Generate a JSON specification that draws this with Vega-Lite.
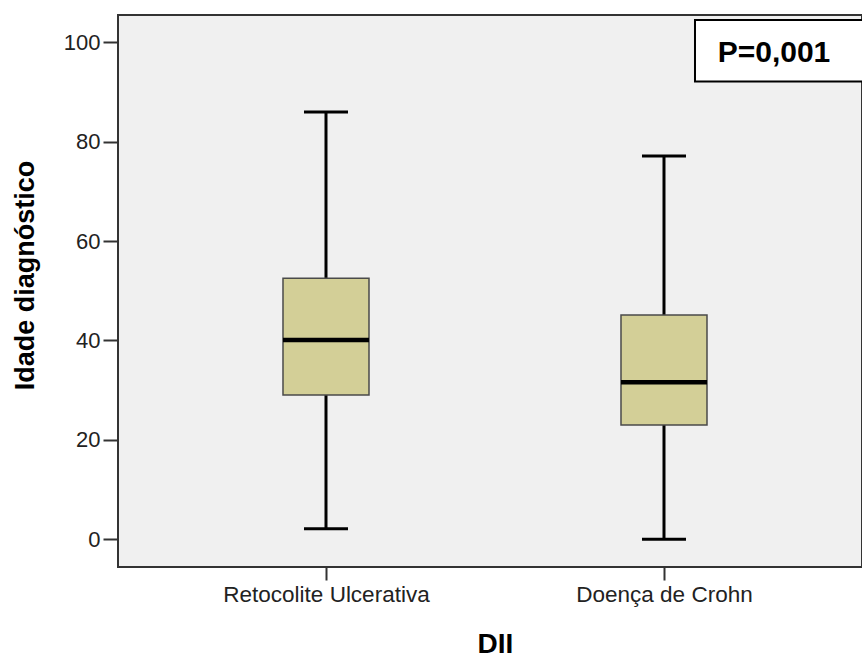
{
  "$schema": "https://vega.github.io/schema/vega-lite/v6.json",
  "autosize": {"type": "none"},
  "padding": {"left": 118, "top": 15, "right": 0, "bottom": 92},
  "width": 744,
  "height": 552,
  "background": "white",
  "config": {
    "view": {"fill": "#f0f0f0", "stroke": "#333333", "strokeWidth": 2},
    "font": "Liberation Sans"
  },
  "datasets": {
    "boxes": [
      {"DII": "Retocolite Ulcerativa", "min": 2.1, "q1": 29.0, "median": 40.1, "q3": 52.5, "max": 86.0},
      {"DII": "Doença de Crohn", "min": 0, "q1": 23.0, "median": 31.6, "q3": 45.1, "max": 77.1}
    ],
    "note": [
      {"DII": "Doença de Crohn", "label": "P=0,001", "low": 92.1, "high": 104.5, "texty": 96.1}
    ]
  },
  "encoding": {
    "x": {
      "field": "DII",
      "type": "nominal",
      "sort": ["Retocolite Ulcerativa", "Doença de Crohn"],
      "scale": {"type": "point", "padding": 0.6006, "align": 0.5123, "domain": ["Retocolite Ulcerativa", "Doença de Crohn"]},
      "axis": {
        "title": "DII",
        "domain": false,
        "grid": false,
        "labelAngle": 0,
        "labelLimit": 400,
        "tickSize": 13,
        "tickWidth": 2,
        "tickColor": "#333333",
        "labelFont": "Liberation Sans",
        "labelFontSize": 22.5,
        "labelColor": "#222222",
        "labelPadding": 3,
        "titleFont": "Liberation Sans",
        "titleFontSize": 28,
        "titleFontWeight": "bold",
        "titleColor": "#000000",
        "titlePadding": 25,
        "titleX": 377
      }
    }
  },
  "layer": [
    {
      "data": {"name": "boxes"},
      "mark": {"type": "rule", "color": "#000000", "strokeWidth": 3, "opacity": 1},
      "encoding": {
        "y": {
          "field": "min",
          "type": "quantitative",
          "scale": {"domain": [-5.6, 105.5], "nice": false, "zero": false},
          "axis": {
            "title": "Idade diagnóstico",
            "values": [0, 20, 40, 60, 80, 100],
            "domain": false,
            "grid": false,
            "tickSize": 15,
            "tickWidth": 2,
            "tickColor": "#333333",
            "labelFont": "Liberation Sans",
            "labelFontSize": 22,
            "labelColor": "#222222",
            "labelPadding": 3,
            "titleFont": "Liberation Sans",
            "titleFontSize": 27,
            "titleFontWeight": "bold",
            "titleColor": "#000000",
            "titlePadding": 24,
            "titleY": 260
          }
        },
        "y2": {"field": "max"}
      }
    },
    {
      "data": {"name": "boxes"},
      "mark": {"type": "bar", "size": 86, "fill": "#d3cf97", "stroke": "#4a4a4a", "strokeWidth": 1.5, "opacity": 1},
      "encoding": {
        "y": {"field": "q1", "type": "quantitative"},
        "y2": {"field": "q3"}
      }
    },
    {
      "data": {"name": "boxes"},
      "mark": {"type": "tick", "size": 86, "thickness": 4.5, "color": "#000000", "opacity": 1, "orient": "horizontal"},
      "encoding": {
        "y": {"field": "median", "type": "quantitative"}
      }
    },
    {
      "data": {"name": "boxes"},
      "mark": {"type": "tick", "size": 44, "thickness": 3, "color": "#000000", "opacity": 1, "orient": "horizontal"},
      "encoding": {
        "y": {"field": "max", "type": "quantitative"}
      }
    },
    {
      "data": {"name": "boxes"},
      "mark": {"type": "tick", "size": 44, "thickness": 3, "color": "#000000", "opacity": 1, "orient": "horizontal"},
      "encoding": {
        "y": {"field": "min", "type": "quantitative"}
      }
    },
    {
      "data": {"name": "note"},
      "mark": {"type": "bar", "size": 185, "xOffset": 123.5, "fill": "#ffffff", "stroke": "#000000", "strokeWidth": 2, "opacity": 1},
      "encoding": {
        "y": {"field": "low", "type": "quantitative"},
        "y2": {"field": "high"}
      }
    },
    {
      "data": {"name": "note"},
      "mark": {"type": "text", "dx": 110, "align": "center", "baseline": "alphabetic", "font": "Liberation Sans", "fontSize": 30, "fontWeight": "bold", "color": "#000000"},
      "encoding": {
        "y": {"field": "texty", "type": "quantitative"},
        "text": {"field": "label"}
      }
    }
  ]
}
